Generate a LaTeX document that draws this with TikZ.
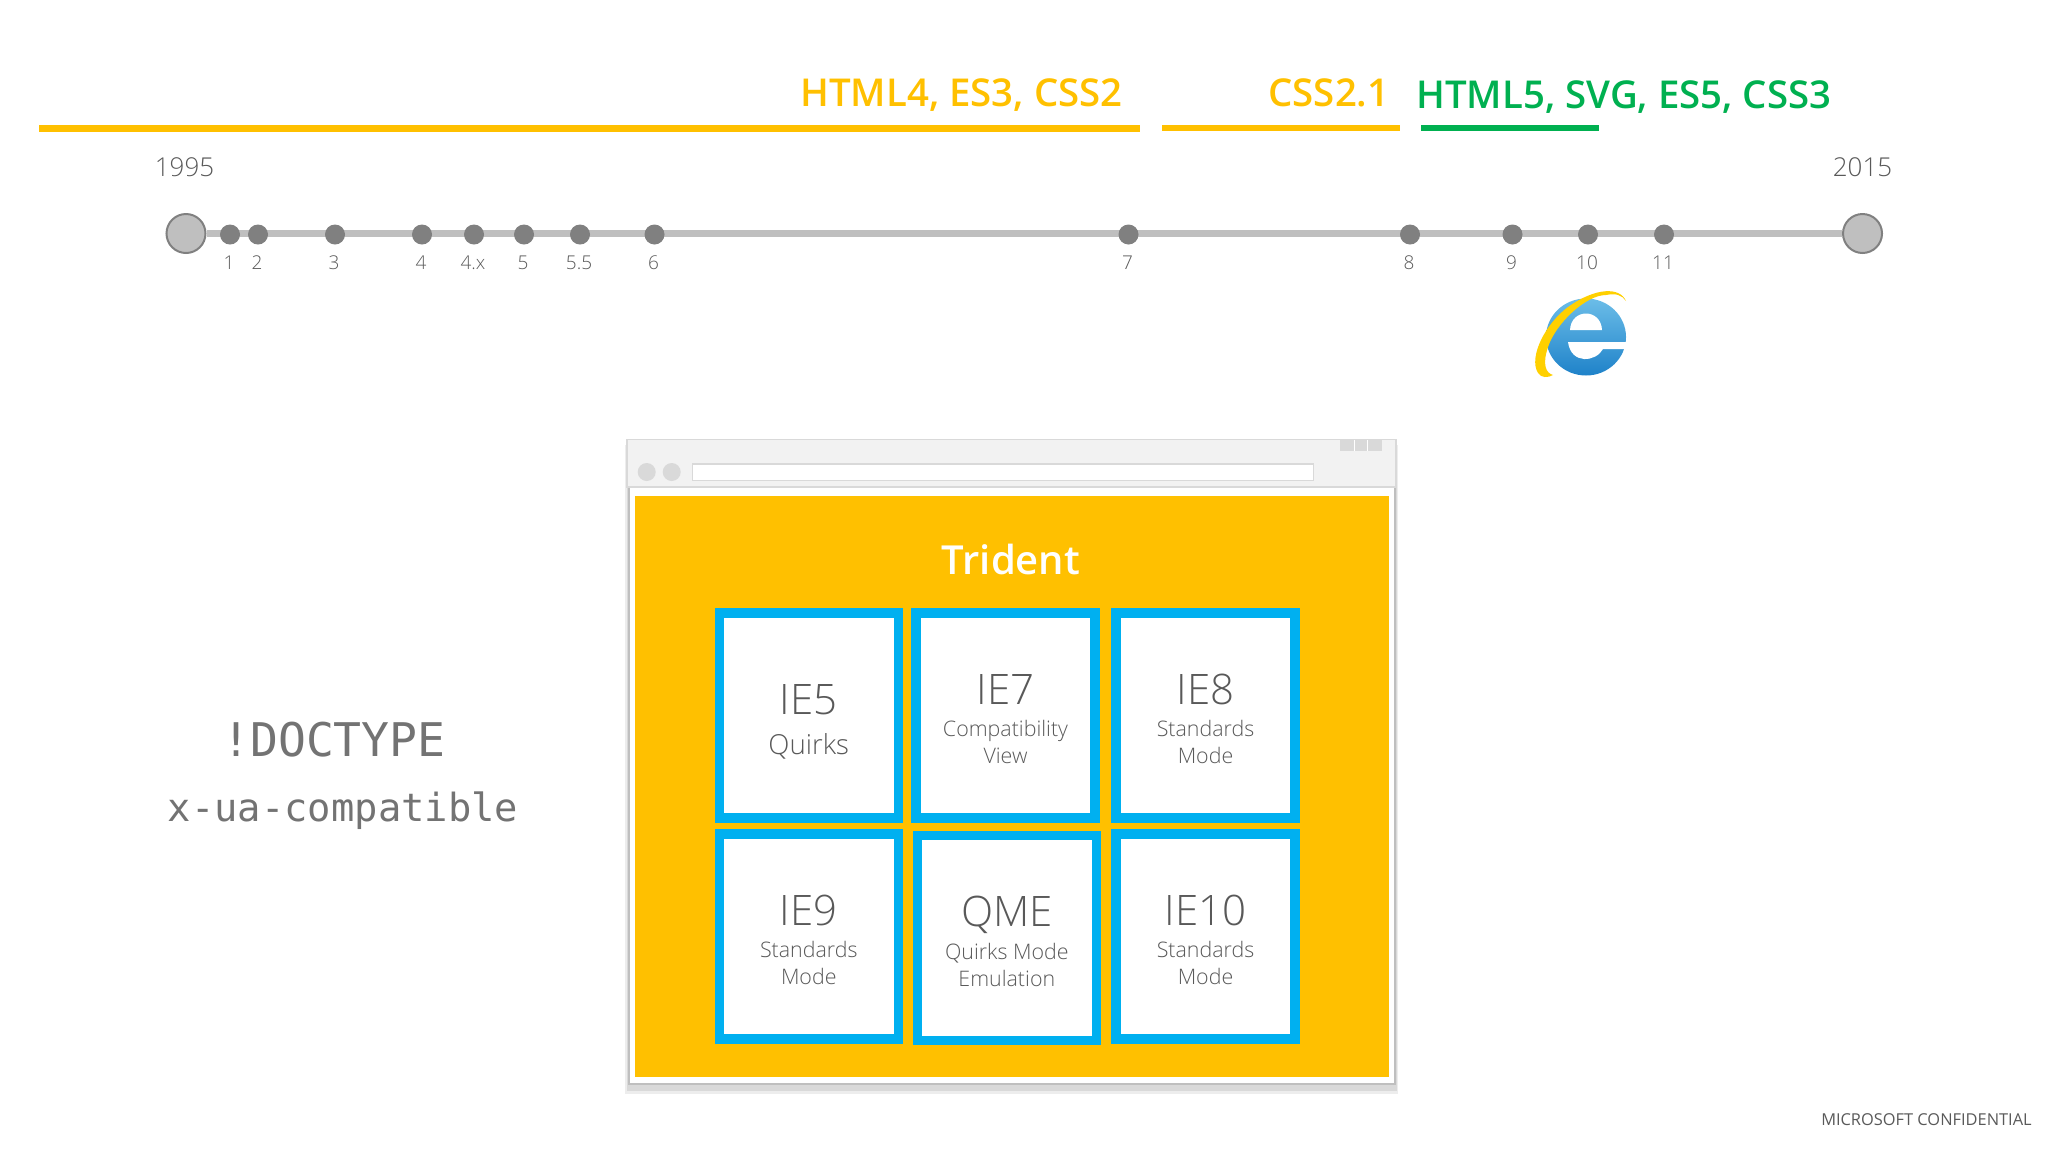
\documentclass[tikz,border=0pt]{standalone}
\usepackage{fontspec}
\setmainfont{Open Sans}
\setmonofont{DejaVu Sans Mono}
\newfontfamily\lightfont{Open Sans Light}
\newfontfamily\semifont{Open Sans Semibold}
\definecolor{vendor}{HTML}{FFC000}
\definecolor{greenspec}{HTML}{00B050}
\definecolor{tileblue}{HTML}{00B0F0}
\definecolor{inkgray}{HTML}{595959}
\definecolor{logotop}{HTML}{6BBDE8}
\definecolor{logobot}{HTML}{1F82C9}
\tikzset{
  specbar/.style={line width=3.25pt},
  spectext/.style={font=\semifont\fontsize{19.2}{23}\selectfont,inner sep=0pt,anchor=base west},
  bigdot/.style={circle,draw=black!50,line width=1pt,fill=black!25,minimum size=19.5pt,inner sep=0pt},
  verdot/.style={circle,fill=black!50,minimum size=10pt,inner sep=0pt},
  yeartext/.style={font=\lightfont\fontsize{13}{16}\selectfont,text=inkgray,inner sep=0pt},
  vertext/.style={font=\lightfont\fontsize{9.5}{11}\selectfont,text=inkgray,inner sep=0pt},
  tile/.style={draw=tileblue,line width=4.75pt,fill=white,minimum width=89.5pt,minimum height=102.5pt,
    inner sep=0pt,align=center,text=inkgray,font=\lightfont\fontsize{10.7}{13.35}\selectfont},
  monotext/.style={text=black!55,inner sep=0pt,anchor=base},
}
\newcommand{\tilehead}[1]{\rule{0pt}{18.5pt}{\fontsize{21}{23}\selectfont #1}}
\begin{document}
\begin{tikzpicture}[x=0.5pt,y=-0.5pt]
        \useasboundingbox (0,0) rectangle (2048,1152);
        %% Specs
        \draw[specbar,vendor] (39,128.5) -- (1140,128.5);
        \draw[specbar,vendor] (1162,128) -- (1400,128);
        \draw[specbar,greenspec] (1421,128) -- (1599,128);
        \node[spectext,text=vendor] (html4) at (800,106) {HTML4, ES3, CSS2};
        \node[spectext,text=vendor] (css21) at (1268,106) {CSS2.1};
        \node[spectext,text=greenspec] (html5) at (1416,108) {HTML5, SVG, ES5, CSS3};
        %% Timeline
        \node[bigdot] (start) at (186,233.5) {};
        \node[bigdot] (end) at (1862.5,233.5) {};
        \draw[line width=3.25pt,black!25] (start) -- (end);
        \node[yeartext] (y1995) at (184.5,167) {1995};
        \node[yeartext] (y2015) at (1862.5,167) {2015};
        \foreach \name/\xpos/\ver in {a/230/1,b/258/2,c/335/3,d/422/4,e/474/4.x,f/524/5,g/580/5.5,h/654.5/6,i/1128.5/7,j/1410/8,k/1512.5/9,l/1588/10,m/1664/11} {
            \node[verdot] (\name) at (\xpos,234.5) {};
            \node[vertext] (v\name) at (\xpos-1,263) {\ver};
        }
        %% Logo
        \begin{scope}[shift={(1586,337)}]
            \shade[top color=logotop,bottom color=logobot] (0,0) circle[x radius=40,y radius=38.5];
            \fill[white] (-16,-7) .. controls (-15,-29) and (15,-29) .. (16,-7) -- cycle;
            \fill[white] (-18,5) -- (41,5) -- (41,12) -- (17,12) .. controls (10,25) and (-15,28) .. (-18,5) -- cycle;
            \fill[vendor!75!yellow] (40,-36) .. controls (34,-50) and (10,-50) .. (-18,-30)
                .. controls (-40,-14) and (-58,20) .. (-48,36)
                .. controls (-45,41) and (-38,41) .. (-33,38)
                .. controls (-40,36) and (-44,28) .. (-38,10)
                .. controls (-30,-14) and (0,-42) .. (20,-42)
                .. controls (30,-44) and (36,-42) .. (40,-36) -- cycle;
        \end{scope}
        %% Browser
        \fill[black!7] (625,445) rectangle (1398,1094);
        \fill[black!15] (627,445) rectangle (1397,1091);
        \draw[draw=black!25,line width=0.6pt,fill=white] (629,480) rectangle (1395,1084);
        \draw[draw=black!15,line width=0.6pt,fill=black!5] (627,439.5) rectangle (1396,487);
        \fill[black!15] (1340,440) rectangle (1381.5,451);
        \draw[white,line width=0.4pt] (1354,440) -- (1354,451) (1367.5,440) -- (1367.5,451);
        \fill[black!15] (646.7,472) circle[radius=9];
        \fill[black!15] (671.7,472) circle[radius=9];
        \draw[draw=black!15,line width=0.6pt,fill=white] (692.5,464) rectangle (1313.5,480.5);
        \fill[vendor] (635,496) rectangle (1388.5,1077);
        \node[font=\semifont\fontsize{20}{24}\selectfont,text=white,inner sep=0pt,anchor=base] (trident) at (1011,574) {Trident};
        %% Tiles
        \node[tile] (ie5) at (808.75,715.5) {\rule{0pt}{21pt}\tilehead{IE5}\\[6.5pt]{\fontsize{13.8}{16}\selectfont Quirks}};
        \node[tile] (ie7) at (1005.5,715.5) {\tilehead{IE7}\\[3pt]Compatibility\\View};
        \node[tile] (ie8) at (1205.5,715.5) {\tilehead{IE8}\\[3pt]Standards\\Mode};
        \node[tile] (ie9) at (808.75,936.5) {\tilehead{IE9}\\[3pt]Standards\\Mode};
        \node[tile] (qme) at (1006.8,938) {\tilehead{QME}\\[3pt]Quirks Mode\\Emulation};
        \node[tile] (ie10) at (1205.5,936.5) {\tilehead{IE10}\\[3pt]Standards\\Mode};
        %% Doctype
        \node[monotext,font=\ttfamily\fontsize{23.2}{26}\selectfont] (doctype) at (334,756) {!DOCTYPE};
        \node[monotext,font=\ttfamily\fontsize{19.4}{22}\selectfont] (xua) at (343,821) {x-ua-compatible};
        \node[font=\fontsize{8.2}{10}\selectfont,text=inkgray,inner sep=0pt,anchor=base east] (conf) at (2032,1125) {MICROSOFT CONFIDENTIAL};
    \end{tikzpicture}
\end{document}
